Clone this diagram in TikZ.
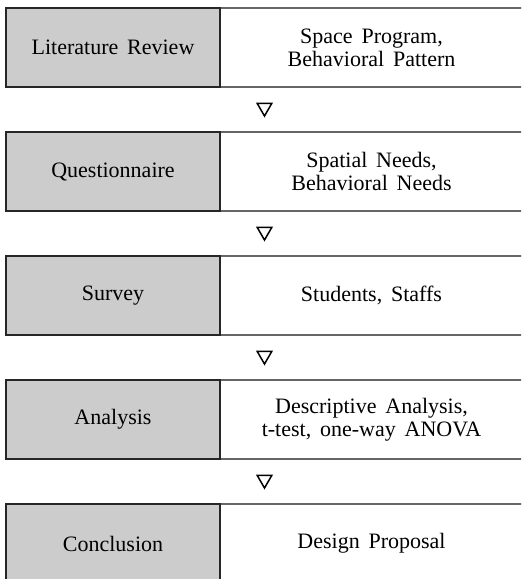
\documentclass[tikz,border=0pt]{standalone}
\usepackage{fontspec}
\setmainfont{Liberation Serif}[WordSpace=1.6]
\usetikzlibrary{positioning,calc,shapes.geometric}

\begin{document}
\begin{tikzpicture}[%
  x=0.5pt, y=-0.5pt,
  node distance=22.5pt and 0pt,
  every node/.style={font=\fontsize{11}{11.5}\selectfont, inner sep=0pt, outer sep=0pt},
  stage/.style={draw=black!85, line width=0.65pt, fill=black!20, minimum width=107pt, minimum height=39.5pt, align=center},
  detail/.style={draw=black!60, line width=0.65pt, minimum width=151.5pt, minimum height=39.5pt, align=center},
  tri/.style={draw=black, line width=0.75pt, regular polygon, regular polygon sides=3, shape border rotate=180, minimum size=8.5pt, yshift=1pt}]
\clip (0,0) rectangle (521,579);
\node[detail] (lit-d) at (371.5,47.5) {Space Program,\\Behavioral Pattern};
\node[detail, below=of lit-d] (quest-d) {Spatial Needs,\\Behavioral Needs};
\node[detail, below=of quest-d] (surv-d) {Students, Staffs};
\node[detail, below=of surv-d] (anal-d) {Descriptive Analysis,\\t-test, one-way ANOVA};
\node[detail, below=of anal-d] (concl-d) {Design Proposal};
\node[stage, left=of lit-d] (lit) {Literature Review};
\node[stage, left=of quest-d] (quest) {Questionnaire};
\node[stage, left=of surv-d] (surv) {Survey};
\node[stage, left=of anal-d] (anal) {Analysis};
\node[stage, left=of concl-d] (concl) {Conclusion};
\node[tri] (t1) at ($(lit.south west)!0.5!(quest-d.north east)$) {};
\node[tri] (t2) at ($(quest.south west)!0.5!(surv-d.north east)$) {};
\node[tri] (t3) at ($(surv.south west)!0.5!(anal-d.north east)$) {};
\node[tri] (t4) at ($(anal.south west)!0.5!(concl-d.north east)$) {};
\end{tikzpicture}
\end{document}
